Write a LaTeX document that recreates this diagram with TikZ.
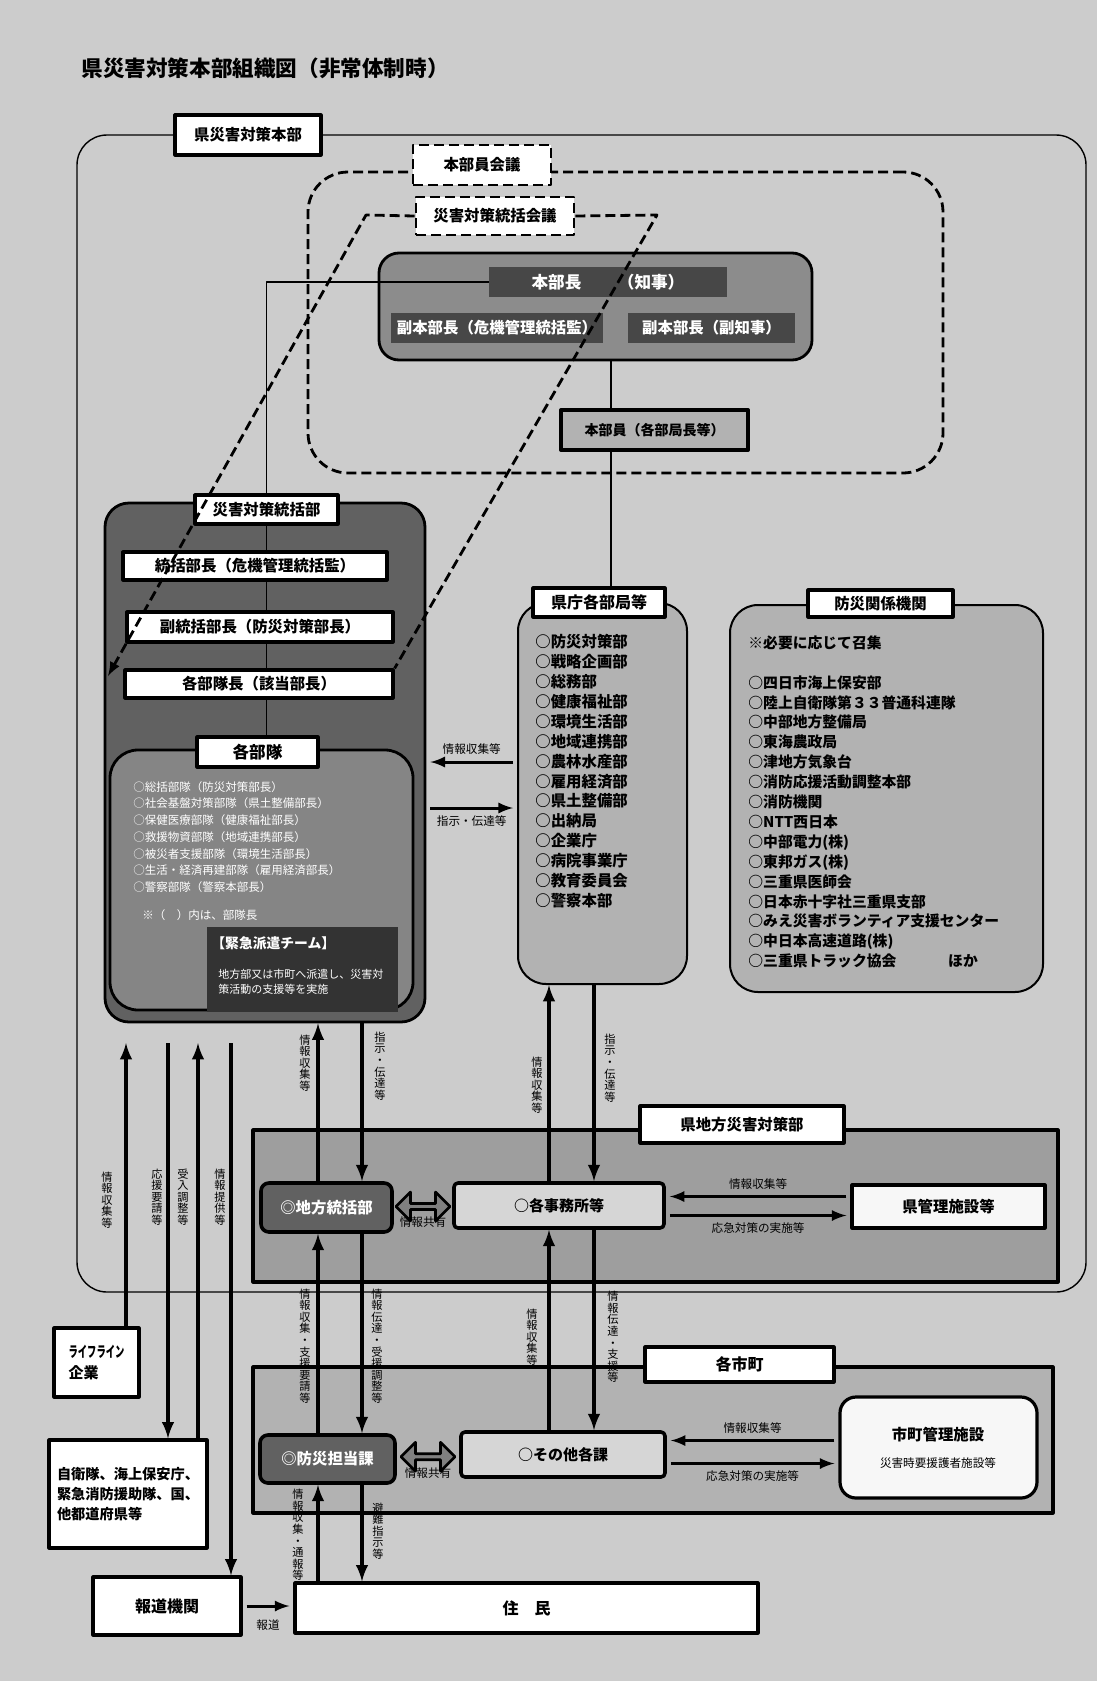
\documentclass[tikz,border=0pt]{standalone}
\usepackage{fontspec}
\setmainfont{Noto Sans CJK JP}
\usetikzlibrary{calc,shapes.arrows}

\begin{document}
\begin{tikzpicture}[x=0.5pt,y=-0.5pt,line join=round,
  box at/.style args={#1/#2/#3/#4}{at={({(#1+#3)/2},{(#2+#4)/2})},minimum width={(#3-#1)*0.5pt},minimum height={(#4-#2)*0.5pt}},
  tagbox/.style={draw,line width=1.6pt,fill=white,inner sep=0pt,font=\fontsize{7.7}{8}\selectfont\bfseries},
  whitebox/.style={draw,line width=1.6pt,fill=white,inner sep=0pt,font=\fontsize{7.7}{8}\selectfont\bfseries},
  dashbox/.style={draw,line width=1.4pt,dash pattern=on 5pt off 2.5pt,fill=white,inner sep=0pt,font=\fontsize{7.7}{8}\selectfont\bfseries},
  darkbar/.style={fill=black!72,inner sep=0pt,text=white,font=\fontsize{7.7}{8}\selectfont\bfseries},
  group/.style={draw,line width=1.4pt,inner sep=0pt},
  office/.style={draw,line width=1.8pt,fill=black!16,rounded corners=2pt,inner sep=0pt,font=\fontsize{7.5}{8}\selectfont\bfseries},
  hqbox/.style={draw,line width=1.8pt,fill=black!62,rounded corners=4pt,inner sep=0pt,text=white,font=\fontsize{7.7}{8}\selectfont\bfseries},
  flow/.style={line width=1.8pt,-latex},
  hflow/.style={line width=1.5pt,-latex,shorten >=2pt,shorten <=2pt},
  vlab/.style={inner sep=0pt,align=center,font=\fontsize{5.6}{5.8}\selectfont},
  hlab/.style={inner sep=0pt,font=\fontsize{5.8}{6}\selectfont},
  share/.style={double arrow,draw,line width=1.3pt,fill=black!50,minimum height=27pt,minimum width=14.5pt,double arrow head extend=2.5pt,inner sep=0pt},
  dashline/.style={line width=1.4pt,dash pattern=on 5pt off 2.5pt},
  link/.style={line width=0.8pt}
]
	% page
	\fill[black!20] (0,0) rectangle (1097,1681);
	\useasboundingbox (0,0) rectangle (1097,1681);
	\node[anchor=west,inner sep=0pt,font=\fontsize{10.8}{11}\selectfont\bfseries] (title) at (81,68) {県災害対策本部組織図（非常体制時）};

	% Prefectural HQ frame
	\node[draw,line width=0.7pt,rounded corners=15pt,inner sep=0pt,box at=77/135/1086/1292] (hq) {};
	\node[tagbox,box at=175/115/321/155] (hqtag) {県災害対策本部};

	% Council (dashed)
	\node[draw,dashline,rounded corners=20pt,inner sep=0pt,box at=308/172/943/473] (council) {};
	\node[dashbox,box at=413/145/551/185] (meeting) {本部員会議};
	\node[dashbox,box at=416/197/574/235] (cmeet) {災害対策統括会議};

	% Governor
	\node[group,fill=black!45,rounded corners=10pt,box at=379/253/812/360] (gov) {};
	\node[darkbar,font=\fontsize{8.3}{9}\selectfont\bfseries,box at=489/267/727/297] (chief) {本部長\hspace{2.2em}（知事）};
	\node[darkbar,box at=391/313/603/343] (vice1) {副本部長（危機管理統括監）};
	\node[darkbar,box at=628/313/795/343] (vice2) {副本部長（副知事）};
	\node[draw,line width=2pt,fill=black!30,inner sep=0pt,font=\fontsize{7}{8}\selectfont\bfseries,box at=561/410/748/450] (members) {本部員（各部局長等）};

	% Disaster HQ
	\node[group,fill=black!62,rounded corners=12pt,box at=105/503/425/1022] (dhq) {};
	\node[whitebox,box at=123/552/387/580] (dchief) {統括部長（危機管理統括監）};
	\node[whitebox,box at=127/612/393/642] (dvice) {副統括部長（防災対策部長）};
	\node[whitebox,box at=125/670/393/698] (uchief) {各部隊長（該当部長）};
	\node[group,fill=black!48,rounded corners=14pt,box at=110/750/413/1010] (units) {};
	\node[tagbox,box at=195/495/338/524] (dtag) {災害対策統括部};
	\node[tagbox,font=\fontsize{8.3}{9}\selectfont\bfseries,box at=197/737/318/767] (utag) {各部隊};
	\node[anchor=north west,inner sep=0pt,align=left,text=white,font=\fontsize{5.75}{8.35}\selectfont] (ulist) at (133,781)
	  {○総括部隊（防災対策部長）\\○社会基盤対策部隊（県土整備部長）\\○保健医療部隊（健康福祉部長）\\○救援物資部隊（地域連携部長）\\○被災者支援部隊（環境生活部長）\\○生活・経済再建部隊（雇用経済部長）\\○警察部隊（警察本部長）};
	\node[anchor=west,inner sep=0pt,text=white,font=\fontsize{5.75}{6}\selectfont] (unote) at (142,915) {※（　）内は、部隊長};
	\node[fill=black!80,inner sep=0pt,box at=207/927/398/1012] (team) {};
	\node[anchor=west,inner sep=0pt,text=white,font=\fontsize{6.9}{7}\selectfont\bfseries] (teamtitle) at (211,943) {【緊急派遣チーム】};
	\node[anchor=north west,inner sep=0pt,align=left,text=white,font=\fontsize{5.5}{7.5}\selectfont] (teamtext) at (218,969) {地方部又は市町へ派遣し、災害対\\策活動の支援等を実施};

	% Prefectural departments
	\node[group,line width=1pt,fill=black!30,rounded corners=14pt,box at=518/603/687/984] (pref) {};
	\node[tagbox,font=\fontsize{8}{9}\selectfont\bfseries,box at=533/588/665/617] (preftag) {県庁各部局等};
	\node[anchor=north west,inner sep=0pt,align=left,font=\fontsize{7.7}{9.95}\selectfont\bfseries] (preflist) at (535,634)
	  {○防災対策部\\○戦略企画部\\○総務部\\○健康福祉部\\○環境生活部\\○地域連携部\\○農林水産部\\○雇用経済部\\○県土整備部\\○出納局\\○企業庁\\○病院事業庁\\○教育委員会\\○警察本部};

	% Disaster-related agencies
	\node[group,line width=1pt,fill=black!30,rounded corners=14pt,box at=730/605/1043/992] (orgs) {};
	\node[tagbox,box at=808/590/953/617] (orgstag) {防災関係機関};
	\node[anchor=west,inner sep=0pt,font=\fontsize{7.4}{8}\selectfont\bfseries] (orgsnote) at (748,643) {※必要に応じて召集};
	\node[anchor=north west,inner sep=0pt,align=left,font=\fontsize{7.4}{9.95}\selectfont\bfseries] (orgslist) at (748,675)
	  {○四日市海上保安部\\○陸上自衛隊第３３普通科連隊\\○中部地方整備局\\○東海農政局\\○津地方気象台\\○消防応援活動調整本部\\○消防機関\\○NTT西日本\\○中部電力(株)\\○東邦ガス(株)\\○三重県医師会\\○日本赤十字社三重県支部\\○みえ災害ボランティア支援センター\\○中日本高速道路(株)\\○三重県トラック協会\hspace{3.5em}ほか};

	% Regional HQ
	\node[group,line width=1.6pt,fill=black!38,box at=253/1130/1058/1282] (reg) {};
	\node[tagbox,box at=640/1106/844/1143] (regtag) {県地方災害対策部};
	\node[hqbox,box at=261/1183/392/1232] (rhq) {◎地方統括部};
	\node[office,box at=454/1183/664/1228] (offices) {○各事務所等};
	\node[whitebox,fill=black!3,box at=852/1185/1045/1228] (pfac) {県管理施設等};
	\node[share] (share1) at ($(rhq.east)!0.5!(offices.west)$) {};
	\node[hlab,below=3pt] (sharelab1) at (share1.south) {情報共有};

	% Municipalities
	\node[group,line width=1.6pt,fill=black!30,box at=253/1367/1053/1513] (muni) {};
	\node[tagbox,font=\fontsize{8}{9}\selectfont\bfseries,box at=645/1347/834/1382] (munitag) {各市町};
	\node[hqbox,box at=260/1435/395/1483] (mdep) {◎防災担当課};
	\node[office,box at=461/1432/665/1477] (others) {○その他各課};
	\node[whitebox,fill=black!3,rounded corners=8pt,box at=840/1397/1037/1498] (mfac) {};
	\node[inner sep=0pt,font=\fontsize{7.7}{8}\selectfont\bfseries] (mfacname) at (938,1435) {市町管理施設};
	\node[hlab] (mfacsub) at (938,1463) {災害時要援護者施設等};
	\node[share] (share2) at ($(mdep.east)!0.5!(others.west)$) {};
	\node[hlab,below=3pt] (sharelab2) at (share2.south) {情報共有};

	% Outside bodies
	\node[whitebox,align=left,font=\fontsize{7.5}{10}\selectfont\bfseries,box at=54/1328/139/1397] (lifeline) {\scalebox{0.62}[1]{ライフライン}\\企業};
	\node[whitebox,align=left,font=\fontsize{7.1}{10}\selectfont\bfseries,box at=49/1440/207/1548] (sdf) {自衛隊、海上保安庁、\\緊急消防援助隊、国、\\他都道府県等};
	\node[whitebox,font=\fontsize{8}{9}\selectfont\bfseries,box at=93/1577/241/1635] (press) {報道機関};
	\node[whitebox,font=\fontsize{8}{9}\selectfont\bfseries,box at=295/1583/758/1633] (resident) {住\hspace{1em}民};

	% Thin links
	\coordinate (xm) at (611,0);
	\draw[link] (chief.west) -| (dtag.north);
	\draw[link] (gov.south -| xm) -- (members.north -| xm);
	\draw[link] (members.south -| xm) -- (preftag.north -| xm);
	\draw[link] (dtag.south) -- (dtag.south |- dchief.north);
	\draw[link] (dchief.south -| dtag.south) -- (dvice.north -| dtag.south);
	\draw[link] (dvice.south -| dtag.south) -- (uchief.north -| dtag.south);
	\draw[link] (uchief.south -| dtag.south) -- (utag.north -| dtag.south);

	% HQ <-> departments
	\draw[hflow] ([yshift=15.75pt]pref.west) -- ([yshift=15.75pt]pref.west -| dhq.east) node[hlab,midway,above=3pt] (lab1) {情報収集等};
	\draw[hflow] ([yshift=-7.25pt]pref.west -| dhq.east) -- ([yshift=-7.25pt]pref.west) node[hlab,midway,below=3pt] (lab2) {指示・伝達等};

	% Regional offices <-> facilities
	\draw[hflow] ([yshift=5pt]pfac.west) -- ([yshift=5pt]pfac.west -| offices.east) node[hlab,midway,above=3pt] (lab3) {情報収集等};
	\draw[hflow] ([yshift=-5pt]offices.east) -- ([yshift=-5pt]offices.east -| pfac.west) node[hlab,midway,below=3pt] (lab4) {応急対策の実施等};
	\draw[hflow] ([yshift=7pt]others.east -| mfac.west) -- ([yshift=7pt]others.east) node[hlab,midway,above=3pt] (lab5) {情報収集等};
	\draw[hflow] ([yshift=-4.5pt]others.east) -- ([yshift=-4.5pt]others.east -| mfac.west) node[hlab,midway,below=3pt] (lab6) {応急対策の実施等};

	% Vertical channels
	\coordinate (xa) at (318,0);
	\coordinate (xb) at (362,0);
	\coordinate (xc) at (549,0);
	\coordinate (xd) at (594,0);
	\draw[flow] (rhq.north -| xa) -- (dhq.south -| xa);
	\draw[flow] (dhq.south -| xb) -- (rhq.north -| xb);
	\draw[flow] (offices.north -| xc) -- (pref.south -| xc);
	\draw[flow] (pref.south -| xd) -- (offices.north -| xd);
	\draw[flow] (mdep.north -| xa) -- (rhq.south -| xa);
	\draw[flow] (rhq.south -| xb) -- (mdep.north -| xb);
	\draw[flow] (others.north -| xc) -- (offices.south -| xc);
	\draw[flow] (offices.south -| xd) -- (others.north -| xd);
	\draw[flow] (resident.north -| xa) -- (mdep.south -| xa);
	\draw[flow] (mdep.south -| xb) -- (resident.north -| xb);

	% Outside channels
	\coordinate (la) at (126,1043);
	\coordinate (lb) at (168,1043);
	\coordinate (lc) at (198,1043);
	\coordinate (ld) at (231,1043);
	\draw[flow] (lifeline.north -| la) -- (la);
	\draw[flow] (lb) -- (sdf.north -| lb);
	\draw[flow] (sdf.north -| lc) -- (lc);
	\draw[flow] (ld) -- (press.north -| ld);
	\draw[hflow] (press.east) -- (press.east -| resident.west) node[hlab,midway,below=6pt] (lab7) {報道};

	% Vertical labels
	\node[vlab] (v1) at (107,1200) {情\\報\\収\\集\\等};
	\node[vlab] (v2) at (157,1197) {応\\援\\要\\請\\等};
	\node[vlab] (v3) at (183,1197) {受\\入\\調\\整\\等};
	\node[vlab] (v4) at (220,1197) {情\\報\\提\\供\\等};
	\node[vlab] (v5) at (305,1063) {情\\報\\収\\集\\等};
	\node[vlab] (v6) at (380,1066) {指\\示\\・\\伝\\達\\等};
	\node[vlab] (v7) at (537,1085) {情\\報\\収\\集\\等};
	\node[vlab] (v8) at (610,1068) {指\\示\\・\\伝\\達\\等};
	\node[vlab] (v9) at (305,1346) {情\\報\\収\\集\\・\\支\\援\\要\\請\\等};
	\node[vlab] (v10) at (377,1346) {情\\報\\伝\\達\\・\\受\\援\\調\\整\\等};
	\node[vlab] (v11) at (532,1337) {情\\報\\収\\集\\等};
	\node[vlab] (v12) at (613,1337) {情\\報\\伝\\達\\・\\支\\援\\等};
	\node[vlab] (v13) at (298,1535) {情\\報\\収\\集\\・\\通\\報\\等};
	\node[vlab] (v14) at (378,1531) {避\\難\\指\\示\\等};

	% Council scope (dashed)
	\coordinate (lend) at (108,676);
	\draw[dashline,-latex] (cmeet.west) -- (366,215) -- (lend);
	\draw[dashline] (cmeet.east) -- (657,215) -- (uchief.north east);
\end{tikzpicture}
\end{document}
